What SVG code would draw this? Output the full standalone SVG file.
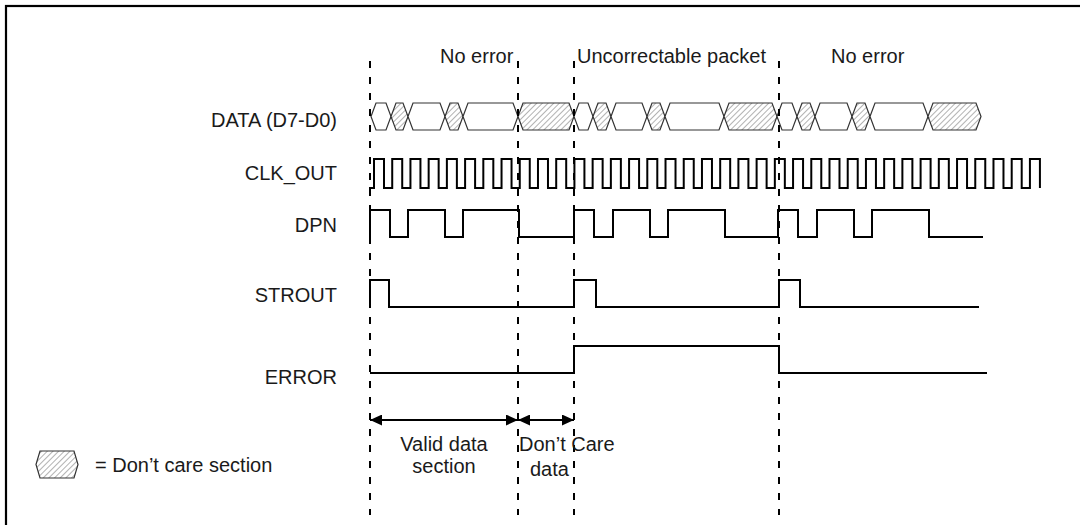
<svg xmlns="http://www.w3.org/2000/svg" width="1080" height="525" viewBox="0 0 1080 525">
  <style>
    text { font-family: "Liberation Sans", Arial, Helvetica, sans-serif; font-size: 20px; fill: #1a1a1a; }
    .lbl { text-anchor: end; }
    .mid { text-anchor: middle; }
    .frame { fill: none; stroke: #000; stroke-width: 2.2; }
    .sig { fill: none; stroke: #000; stroke-width: 2; stroke-linejoin: miter; }
    .guide { fill: none; stroke: #000; stroke-width: 2; stroke-dasharray: 7 9; }
    .hex { stroke: #333; stroke-width: 1.2; stroke-linejoin: miter; }
    .valid { fill: #fff; }
    .dc { fill: url(#hatch); }
    .dim { fill: none; stroke: #000; stroke-width: 2; marker-start: url(#head); marker-end: url(#head); }
  </style>
  <defs>
    <!-- diagonal hatching for don't-care bus states -->
    <pattern id="hatch" patternUnits="userSpaceOnUse" width="4" height="4" patternTransform="rotate(45)">
      <rect width="4" height="4" fill="#fff"/>
      <line x1="0" y1="0" x2="0" y2="4" stroke="#555" stroke-width="0.9"/>
    </pattern>
    <marker id="head" markerUnits="userSpaceOnUse" markerWidth="12" markerHeight="11" refX="12" refY="5.5" orient="auto-start-reverse">
      <path d="M0,0 L12,5.5 L0,11 Z" fill="#000"/>
    </marker>
  </defs>

  <rect class="frame" x="6" y="6" width="1090" height="540"/>

  <!-- section headings -->
  <g id="headings">
    <text x="440" y="63">No error</text>
    <text x="577" y="63">Uncorrectable packet</text>
    <text x="831" y="63">No error</text>
  </g>

  <!-- signal names -->
  <g id="labels">
    <text class="lbl" x="337" y="127">DATA (D7-D0)</text>
    <text class="lbl" x="337" y="180">CLK_OUT</text>
    <text class="lbl" x="337" y="232">DPN</text>
    <text class="lbl" x="337" y="302">STROUT</text>
    <text class="lbl" x="337" y="384">ERROR</text>
  </g>

  <!-- DATA bus: white = valid byte, hatched = don't care -->
  <g id="data">
    <polygon class="hex valid" points="371,116.5 376,103 386,103 391,116.5 386,130 376,130"/>
    <polygon class="hex dc" points="391,116.5 396,103 403,103 408,116.5 403,130 396,130"/>
    <polygon class="hex valid" points="408,116.5 413,103 440,103 445,116.5 440,130 413,130"/>
    <polygon class="hex dc" points="445,116.5 450,103 458,103 463,116.5 458,130 450,130"/>
    <polygon class="hex valid" points="463,116.5 468,103 513,103 518,116.5 513,130 468,130"/>
    <polygon class="hex dc" points="518,116.5 523,103 569,103 574,116.5 569,130 523,130"/>
    <polygon class="hex valid" points="574,116.5 579,103 588,103 593,116.5 588,130 579,130"/>
    <polygon class="hex dc" points="593,116.5 598,103 606,103 611,116.5 606,130 598,130"/>
    <polygon class="hex valid" points="611,116.5 616,103 642,103 647,116.5 642,130 616,130"/>
    <polygon class="hex dc" points="647,116.5 652,103 660,103 665,116.5 660,130 652,130"/>
    <polygon class="hex valid" points="665,116.5 670,103 719,103 724,116.5 719,130 670,130"/>
    <polygon class="hex dc" points="724,116.5 729,103 772,103 777,116.5 772,130 729,130"/>
    <polygon class="hex valid" points="777,116.5 782,103 792,103 797,116.5 792,130 782,130"/>
    <polygon class="hex dc" points="797,116.5 802,103 810,103 815,116.5 810,130 802,130"/>
    <polygon class="hex valid" points="815,116.5 820,103 847,103 852,116.5 847,130 820,130"/>
    <polygon class="hex dc" points="852,116.5 857,103 865,103 870,116.5 865,130 857,130"/>
    <polygon class="hex valid" points="870,116.5 875,103 923,103 928,116.5 923,130 875,130"/>
    <polygon class="hex dc" points="928,116.5 933,103 976,103 981,116.5 976,130 933,130"/>
  </g>

  <!-- CLK_OUT: 37 pulses -->
  <g id="clk_out">
    <path class="sig" d="M369,188 H374
      v-29 h10 v29 h8.22 v-29 h10 v29 h8.22 v-29 h10 v29 h8.22 v-29 h10 v29 h8.22
      v-29 h10 v29 h8.22 v-29 h10 v29 h8.22 v-29 h10 v29 h8.22 v-29 h10 v29 h8.22
      v-29 h10 v29 h8.22 v-29 h10 v29 h8.22 v-29 h10 v29 h8.22 v-29 h10 v29 h8.22
      v-29 h10 v29 h8.22 v-29 h10 v29 h8.22 v-29 h10 v29 h8.22 v-29 h10 v29 h8.22
      v-29 h10 v29 h8.22 v-29 h10 v29 h8.22 v-29 h10 v29 h8.22 v-29 h10 v29 h8.22
      v-29 h10 v29 h8.22 v-29 h10 v29 h8.22 v-29 h10 v29 h8.22 v-29 h10 v29 h8.22
      v-29 h10 v29 h8.22 v-29 h10 v29 h8.22 v-29 h10 v29 h8.22 v-29 h10 v29 h8.22
      v-29 h10 v29 h8.22 v-29 h10 v29 h8.22 v-29 h10 v29 h8.22 v-29 h10 v29 h8.22
      v-29 h10 v29 h8.22 v-29 h10 v29 h8.22 v-29 h10 v29 h8.22 v-29 h10 v29 h8.22
      v-29 h10 v29"/>
  </g>

  <g id="dpn">
    <path class="sig" d="M370,237 V210 H390 V237 H408 V210 H445 V237 H463 V210 H519 V237 H574 V210 H594 V237 H613 V210 H650 V237 H668 V210 H725 V237 H778 V210 H798 V237 H817 V210 H854 V237 H872 V210 H929 V237 H983"/>
  </g>

  <g id="strout">
    <path class="sig" d="M370,307 V280 H389 V307 H574 V280 H596 V307 H779 V280 H800 V307 H979"/>
  </g>

  <g id="error">
    <path class="sig" d="M370,373 H574 V346 H779 V373 H987"/>
  </g>

  <!-- section boundaries and spans -->
  <g id="connectors">
    <line class="guide" x1="370" y1="61" x2="370" y2="515"/>
    <line class="guide" x1="518" y1="61" x2="518" y2="515"/>
    <line class="guide" x1="574" y1="61" x2="574" y2="515"/>
    <line class="guide" x1="779" y1="61" x2="779" y2="515"/>
    <line class="dim" x1="370" y1="420" x2="518" y2="420"/>
    <line class="dim" x1="518" y1="420" x2="574" y2="420"/>
  </g>

  <g id="span-valid">
    <text class="mid" x="444" y="451">Valid data</text>
    <text class="mid" x="444" y="473">section</text>
  </g>
  <g id="span-dontcare">
    <text x="519" y="451">Don’t Care</text>
    <text x="530" y="476">data</text>
  </g>

  <g id="legend">
    <polygon class="hex dc" points="36,464.5 40,451 74,451 78,464.5 74,478 40,478"/>
    <text x="95" y="472">= Don’t care section</text>
  </g>
</svg>
